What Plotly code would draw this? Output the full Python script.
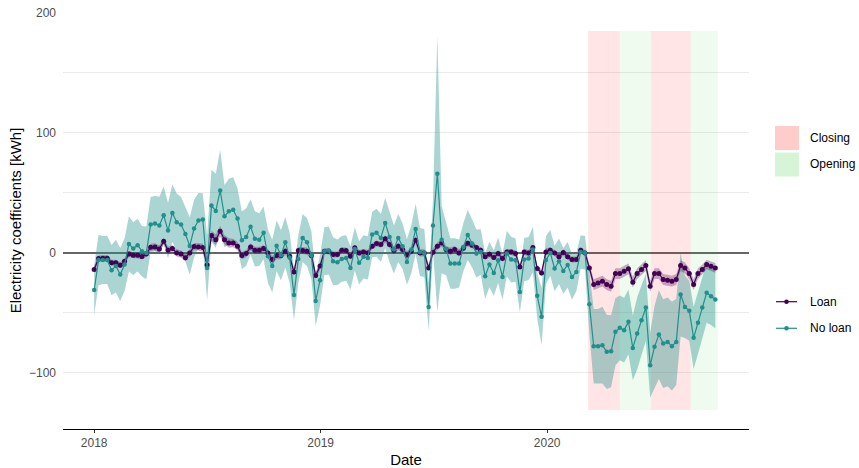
import plotly.graph_objects as go
import pandas as pd

# ---------------- data ----------------
start_date = "2018-01-01"

loan = [
    -13.9, -4.7, -4.4, -4.4, -8.3, -8.3, -10.3, -7.0, -1.0, -2.0, -2.0, -3.0, -1.0,
    4.7, 5.0, 3.3, 9.7, 2.2, 3.6, 0.0, -1.0, -4.0, 0.0, 5.3, 5.0, 4.4, -10.0,
    14.4, 11.0, 18.0, 11.0, 8.3, 8.3, 5.6,
    -2.2, -0.6, 5.0, 2.2, 2.2, 3.6, 0.0, -5.6, -2.2, -2.2, 1.4, -2.8,
    -16.0, 2.0, 2.0, 1.4, -2.2, -18.9, -11.0,
    1.4, 1.4, -1.4, -1.4, 2.2, 1.9, -2.8, 4.2, 0.0, 0.8, 0.0, 5.6, 7.8, 6.9, 11.7, 6.9,
    1.9, 5.6, 2.8, -1.7, 1.4, 10.6, 0.0, 0.0,
    -12.5, 0.6, 5.6, 8.3, 2.8, 1.4, 2.8, 0.0,
    3.9, 8.0, 6.4, 4.4, 2.2, -3.3, -1.1, -3.9, -0.6, -4.7, 0.8, 0.8, -0.6, -11.7, 0.8,
    0.0, 4.4, -13.0, -16.7, 0.8, 2.2, 0.0, -3.3, 0.3, -3.3, -5.6, -5.6, 2.2, 0.0,
    -12.5,
    -26.4, -25.0, -23.6, -26.4, -27.8, -17.2, -17.2, -15.3, -13.3, -24.4,
    -17.2, -13.9, -10.6, -27.8, -17.2, -17.2, -22.2, -22.8, -23.6, -22.2,
    -10.6, -12.5, -17.2, -26.4, -17.2, -13.9, -9.7, -11.1, -12.5,
]

loan_hw = [
    3.0, 2.5, 2.5, 2.5, 2.5, 2.5, 2.5, 2.5, 2.5, 2.5, 2.5, 2.5, 2.5,
    3.0, 3.0, 3.0, 3.0, 3.0, 3.0, 3.0, 3.0, 3.0, 3.0, 3.0, 3.0, 3.5, 4.0,
    4.0, 4.5, 4.5, 4.0, 4.0, 3.5, 3.5,
    3.0, 3.0, 3.0, 3.0, 3.0, 3.0, 3.0, 3.0, 3.0, 3.0, 3.0, 3.0,
    3.0, 3.0, 3.0, 3.0, 3.0, 3.0, 3.0,
    2.5, 2.5, 2.5, 2.5, 2.5, 2.5, 2.5, 2.5, 2.5, 2.5, 2.5, 2.5, 2.5, 2.5, 3.0, 3.0,
    3.0, 3.0, 3.0, 3.0, 3.0, 3.0, 3.0, 3.0,
    3.0, 3.0, 3.0, 3.0, 3.0, 3.0, 3.0, 3.0,
    2.5, 2.5, 2.5, 2.5, 2.5, 2.5, 2.5, 2.5, 2.5, 2.5, 2.5, 2.5, 2.5, 2.5, 2.5,
    2.5, 2.5, 2.5, 3.0, 3.0, 2.5, 2.5, 2.5, 2.5, 2.5, 2.5, 2.5, 2.5, 2.5,
    3.5,
    4.5, 4.5, 4.5, 4.5, 4.5, 4.5, 4.5, 4.5, 4.5, 4.5,
    4.5, 4.5, 4.5, 4.5, 4.5, 4.5, 4.5, 4.5, 4.5, 4.5,
    4.5, 4.5, 4.5, 4.5, 4.5, 4.0, 4.0, 4.0, 4.0,
]

no_loan = [
    -31.0, -6.0, -6.0, -6.0, -14.4, -11.0, -18.0, -9.7, 7.5, 3.6, 6.4, 1.4, 0.0,
    23.6, 24.4, 22.8, 31.4, 18.6, 33.3, 25.6, 23.6, 15.8, 5.8, 20.3, 27.0, 27.8, -12.5,
    39.4, 35.0, 52.0, 30.5, 34.7, 36.0, 28.6,
    10.6, 13.3, 21.7, 11.7, 11.0, 16.7, -2.8, -11.0, 6.0, -2.0, 8.9, -4.0,
    -35.0, -5.0, 12.5, 8.9, -2.0, -40.0, -22.8,
    1.4, 2.0, -7.0, -7.8, -5.0, -4.2, -12.5, 3.3, -8.3, -3.3, -4.2, 15.3, 16.7, 12.5, 25.0, 13.3,
    2.8, 12.5, 5.6, -7.5, 2.8, 20.0, 0.8, 0.0,
    -45.0, 22.8, 66.0, 11.0, 3.3, -8.9, -8.9, -8.9,
    5.0, 15.0, 7.8, -0.6, 0.8, -19.4, -9.7, -16.7, -6.1, -20.0, -0.6, -5.6, -6.1, -32.5, -5.6,
    -4.7, 2.8, -35.8, -53.3, -6.0, 0.0, -13.0, -7.0, -15.0, -10.0, -20.0, -16.0, 0.8, 0.0,
    -42.8,
    -77.8, -77.8, -76.9, -82.5, -81.9, -65.8, -62.5, -64.4, -57.5, -79.2,
    -67.2, -56.1, -45.6, -93.6, -78.3, -68.1, -75.6, -74.2, -77.8, -74.2,
    -34.7, -45.0, -48.3, -70.8, -58.3, -45.6, -33.3, -36.1, -38.9,
]

no_loan_hw = [
    21, 21, 20, 20, 21, 22, 22, 22, 23, 22, 22, 21, 22,
    23, 23, 24, 24, 23, 24, 24, 23, 23, 24, 24, 23, 22, 27,
    30, 31, 34, 26, 27, 27, 25,
    24, 24, 23, 23, 22, 22, 22, 22, 21, 21, 21, 21,
    21, 20, 20, 20, 20, 21, 21,
    20, 20, 20, 19, 19, 19, 18, 18, 18, 18, 18, 19, 20, 20, 21, 21,
    20, 20, 19, 19, 20, 21, 20, 20,
    20, 22, 115, 28, 22, 21, 21, 20,
    20, 21, 20, 20, 19, 19, 19, 19, 19, 19, 19, 19, 18, 17, 18,
    18, 19, 19, 24, 20, 19, 19, 19, 19, 19, 19, 16, 14, 14,
    25,
    31, 31, 32, 31, 30, 28, 27, 27, 27, 27,
    30, 29, 28, 27, 34, 37, 37, 37, 37, 36,
    35, 26, 25, 26, 26, 25, 25, 24, 24,
]

series_names = ["Loan", "No loan"]

period_labels = ["Closing", "Opening", "Closing", "Opening"]
period_start = ["2020-03-07", "2020-04-27", "2020-06-16", "2020-08-19"]
period_end = ["2020-04-27", "2020-06-16", "2020-08-19", "2020-10-02"]
period_ymin = -131
period_ymax = 185

x_tickvals = ["2018-01-01", "2019-01-01", "2020-01-01"]
x_ticktext = ["2018", "2019", "2020"]
y_tickvals = [-100, 0, 100, 200]

# ---------------- styling ----------------
FONT = "Liberation Sans, Arial, Helvetica, sans-serif"
PURPLE = "#440154"
TEAL = "#21908C"
period_fill = {"Closing": "rgba(255,0,0,0.10)", "Opening": "rgba(50,205,50,0.08)"}
period_key = {"Closing": "rgba(255,0,0,0.20)", "Opening": "rgba(50,205,50,0.20)"}

dates = pd.date_range(start_date, periods=len(loan), freq="7D")

fig = go.Figure()


def add_band(vals, hw, color):
    up = [v + h for v, h in zip(vals, hw)]
    lo = [v - h for v, h in zip(vals, hw)]
    fig.add_trace(go.Scatter(x=dates, y=up, mode="lines", line=dict(width=0),
                             showlegend=False, hoverinfo="skip"))
    fig.add_trace(go.Scatter(x=dates, y=lo, mode="lines", line=dict(width=0),
                             fill="tonexty", fillcolor=color,
                             showlegend=False, hoverinfo="skip"))


add_band(no_loan, no_loan_hw, "rgba(33,144,140,0.38)")
add_band(loan, loan_hw, "rgba(68,1,84,0.30)")

series_colors = [PURPLE, TEAL]
series_sizes = [5, 4.5]
for name, vals, col, sz in zip(series_names, [loan, no_loan], series_colors, series_sizes):
    fig.add_trace(go.Scatter(x=dates, y=vals, mode="lines+markers", name=name,
                             line=dict(color=col, width=1.2),
                             marker=dict(color=col, size=sz),
                             showlegend=False))

for lab, s, e in zip(period_labels, period_start, period_end):
    fig.add_shape(type="rect", xref="x", yref="y", x0=s, x1=e,
                  y0=period_ymin, y1=period_ymax, fillcolor=period_fill[lab],
                  line=dict(width=0), layer="between")

# ---------------- legends (drawn in the right margin) ----------------
L, R, T, B = 63, 749, 12, 429
W, H = R - L, B - T


def px(x):
    return (x - L) / W


def py(y):
    return (B - y) / H


for lab, (y0, y1) in zip(["Closing", "Opening"], [(126, 150), (152.5, 176.5)]):
    fig.add_shape(type="rect", xref="paper", yref="paper",
                  x0=px(775), x1=px(799), y0=py(y1), y1=py(y0),
                  fillcolor=period_key[lab], line=dict(width=0))
    fig.add_annotation(text=lab, xref="paper", yref="paper", x=px(808),
                       y=py((y0 + y1) / 2), xanchor="left", yanchor="middle",
                       showarrow=False, font=dict(family=FONT, size=12, color="#000"))

for name, col, yc in zip(series_names, series_colors, [301.7, 328.3]):
    fig.add_shape(type="line", xref="paper", yref="paper",
                  x0=px(776), x1=px(797), y0=py(yc), y1=py(yc),
                  line=dict(color=col, width=1.2))
    fig.add_shape(type="circle", xref="paper", yref="paper",
                  xsizemode="pixel", ysizemode="pixel",
                  xanchor=px(786.5), yanchor=py(yc),
                  x0=-2.3, x1=2.3, y0=-2.3, y1=2.3,
                  fillcolor=col, line=dict(width=0))
    fig.add_annotation(text=name, xref="paper", yref="paper", x=px(808),
                       y=py(yc), xanchor="left", yanchor="middle",
                       showarrow=False, font=dict(family=FONT, size=12, color="#000"))

fig.update_layout(
    width=859, height=468,
    margin=dict(l=L, r=859 - R, t=T, b=468 - B, autoexpand=False),
    paper_bgcolor="white", plot_bgcolor="white",
    font=dict(family=FONT, size=12, color="#000"),
    showlegend=False,
    xaxis=dict(
        range=["2017-11-11 18:00", "2020-11-21 06:00"],
        tickvals=x_tickvals, ticktext=x_ticktext,
        showgrid=False, zeroline=False,
        showline=True, linecolor="#000", linewidth=1,
        ticks="outside", ticklen=3, tickcolor="#333", tickwidth=1,
        tickfont=dict(family=FONT, size=12, color="#4D4D4D"),
        title=dict(text="Date", standoff=5, font=dict(family=FONT, size=15, color="#000")),
        automargin=False,
    ),
    yaxis=dict(
        range=[-146.8, 200.8],
        tickvals=y_tickvals,
        showgrid=True, gridcolor="#EBEBEB", gridwidth=1,
        minor=dict(dtick=50, tick0=0, showgrid=True, gridcolor="#EBEBEB", gridwidth=0.8),
        zeroline=True, zerolinecolor="#666666", zerolinewidth=1.5,
        showline=False, ticks="",
        ticklabelstandoff=6,
        tickfont=dict(family=FONT, size=12, color="#4D4D4D"),
        title=dict(text="Electricity coefficients [kWh]", standoff=3,
                   font=dict(family=FONT, size=15, color="#000")),
        automargin=False,
    ),
)

fig.write_html("out.html")
